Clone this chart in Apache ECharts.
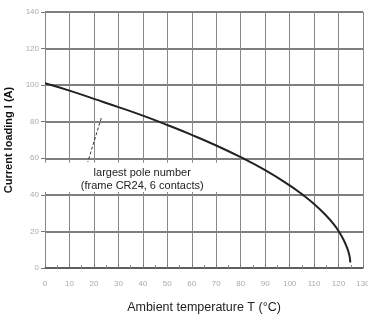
<!DOCTYPE html>
<html>
<head>
    <meta charset="utf-8">
    <title>Current loading vs ambient temperature</title>
    <script src="https://cdn.jsdelivr.net/npm/echarts@6/dist/echarts.min.js"></script>
    <style>
        html, body { margin: 0; padding: 0; background: #fff; }
        #chart { width: 368px; height: 315px; }
    </style>
</head>
<body>
    <div id="chart"></div>
    <script>
        // derating curve
        const temps = [0, 10, 20, 30, 40, 50, 60, 70, 80, 90, 100, 105, 110, 115, 118, 120, 122, 123.5, 124.5, 124.8];
        const currents = [101, 97, 92.5, 88, 83.3, 78.2, 72.8, 67, 60.6, 53.5, 45.2, 40.4, 35, 28.6, 24, 20.2, 15.6, 11, 6.5, 3];

        // leader line from the curve to the note
        const leaderT = [23, 17.5];
        const leaderI = [82, 58];

        // note box corners [T, I]
        const noteBox = [[0, 57.5], [79.5, 41.5]];
        const noteText = 'largest pole number\n(frame CR24, 6 contacts)';

        const xTicks = [0, 130, 10];   // min, max, step
        const yTicks = [0, 140, 20];

        const chart = echarts.init(document.getElementById('chart'));
        const font = 'Liberation Sans, Arial, sans-serif';

        chart.setOption({
            animation: false,
            grid: { left: 45, right: 5, top: 12, bottom: 47, outerBoundsMode: 'none', containLabel: false },
            xAxis: {
                type: 'value',
                min: xTicks[0], max: xTicks[1], interval: xTicks[2],
                name: 'Ambient temperature T (°C)',
                nameLocation: 'middle',
                nameGap: 33,
                nameTextStyle: { fontFamily: font, fontSize: 12.5, color: '#222' },
                axisLine: { lineStyle: { color: '#555', width: 1.5 } },
                axisTick: { show: true, inside: true, length: 3, lineStyle: { color: '#777' } },
                minorTick: { show: true, splitNumber: 2, length: 3, lineStyle: { color: '#888' } },
                axisLabel: { fontFamily: font, fontSize: 8, color: '#aaa', margin: 12 },
                splitLine: { show: true, lineStyle: { color: '#888', width: 1 } }
            },
            yAxis: {
                type: 'value',
                min: yTicks[0], max: yTicks[1], interval: yTicks[2],
                name: 'Current loading I (A)',
                nameLocation: 'middle',
                nameGap: 29,
                nameTextStyle: { fontFamily: font, fontSize: 11, fontWeight: 'bold', color: '#111' },
                axisLine: { show: false },
                axisTick: { show: true, length: 4, lineStyle: { color: '#777' } },
                axisLabel: { fontFamily: font, fontSize: 8, color: '#aaa', margin: 6 },
                splitLine: { show: true, lineStyle: { color: '#555', width: 1.5 } }
            },
            series: [
                {
                    type: 'line',
                    data: temps.map((t, i) => [t, currents[i]]),
                    smooth: 0.5,
                    symbol: 'none',
                    lineStyle: { color: '#222', width: 2 },
                    z: 5
                },
                {
                    type: 'line',
                    data: leaderT.map((t, i) => [t, leaderI[i]]),
                    symbol: 'none',
                    lineStyle: { color: '#333', width: 1, type: [3, 2] },
                    z: 4,
                    markArea: {
                        silent: true,
                        itemStyle: { color: '#fff' },
                        label: {
                            show: true,
                            position: 'inside',
                            formatter: noteText,
                            fontFamily: font,
                            fontSize: 11,
                            lineHeight: 13,
                            color: '#222',
                            align: 'center',
                            offset: [0, 2]
                        },
                        data: [[{ coord: noteBox[0] }, { coord: noteBox[1] }]]
                    }
                }
            ]
        });
    </script>
</body>
</html>
